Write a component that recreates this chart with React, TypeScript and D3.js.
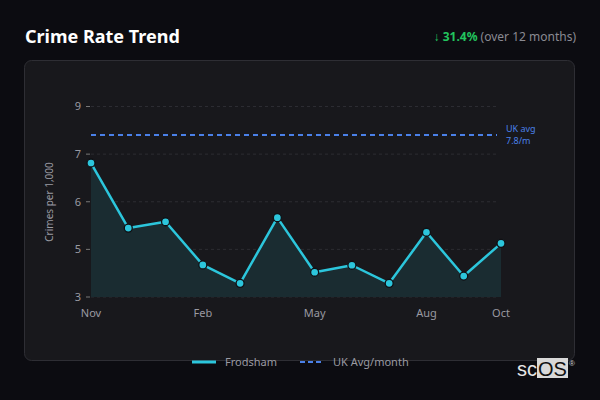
import React from "react";
import * as d3 from "d3";

const months = ["Nov", "Dec", "Jan", "Feb", "Mar", "Apr", "May", "Jun", "Jul", "Aug", "Sep", "Oct"];
const frodsham = [7.22, 5.17, 5.37, 4.01, 3.43, 5.5, 3.78, 4.0, 3.43, 5.04, 3.66, 4.69];
const ukAvgValue = 8.1;
const xTickMonths = ["Nov", "Feb", "May", "Aug", "Oct"];
const yTickValues = [3, 4.5, 6, 7.5, 9];
const yTickLabels = ["3", "5", "6", "7", "9"];

const W = 600;
const H = 400;
const FONT = "'Noto Sans', 'Open Sans', sans-serif";

export default function App() {
  const x = d3.scalePoint<string>().domain(months).range([91, 501]);
  const y = d3.scaleLinear().domain([3, 9]).range([297, 106.5]);

  const line = d3
    .line<number>()
    .x((_, i) => x(months[i]) as number)
    .y((d) => y(d));
  const area = d3
    .area<number>()
    .x((_, i) => x(months[i]) as number)
    .y0(y(3))
    .y1((d) => y(d));

  const gridX0 = 91;
  const gridX1 = 497;
  const cyan = "#2cc6dc";
  const blue = "#4a80e8";

  return (
    <svg
      width={W}
      height={H}
      style={{ position: "absolute", left: 0, top: 0, background: "#0c0c11" }}
      fontFamily={FONT}
    >
      <rect x={0} y={0} width={W} height={H} fill="#0c0c11" />
      <text x={25} y={43} fill="#ffffff" fontSize={18} fontWeight={700}>
        Crime Rate Trend
      </text>
      <text x={576} y={41} textAnchor="end" fontSize={12}>
        <tspan fill="#22c55e" fontWeight={700}>↓ 31.4%</tspan>
        <tspan fill="#8a8a92"> (over 12 months)</tspan>
      </text>

      <rect x={24.5} y={60.5} width={550} height={300} rx={7} fill="#18181c" stroke="#2e2e34" />

      {yTickValues.map((v, i) => (
        <g key={v}>
          <line
            x1={gridX0}
            x2={gridX1}
            y1={y(v)}
            y2={y(v)}
            stroke="#2c2c32"
            strokeDasharray="3,3"
          />
          <line x1={86} x2={90} y1={y(v)} y2={y(v)} stroke="#777" />
          <text x={81} y={y(v)} dy="0.35em" textAnchor="end" fill="#9a9aa2" fontSize={11}>
            {yTickLabels[i]}
          </text>
        </g>
      ))}

      <text
        transform={`translate(53,202) rotate(-90)`}
        textAnchor="middle"
        fill="#9a9aa2"
        fontSize={10}
      >
        Crimes per 1,000
      </text>

      {xTickMonths.map((m) => (
        <text key={m} x={x(m)} y={317} textAnchor="middle" fill="#9a9aa2" fontSize={11}>
          {m}
        </text>
      ))}

      <path d={area(frodsham) || ""} fill="#1a2c31" />

      <line
        x1={gridX0}
        x2={gridX1}
        y1={y(ukAvgValue)}
        y2={y(ukAvgValue)}
        stroke={blue}
        strokeWidth={2}
        strokeDasharray="5,4"
      />
      <text x={506} y={131.5} fill={blue} fontSize={9}>
        UK avg
      </text>
      <text x={506} y={144} fill={blue} fontSize={9}>
        7.8/m
      </text>

      <path d={line(frodsham) || ""} fill="none" stroke={cyan} strokeWidth={2.5} strokeLinejoin="round" />
      {frodsham.map((v, i) => (
        <circle key={i} cx={x(months[i])} cy={y(v)} r={4} fill={cyan} stroke="#101014" strokeWidth={1.3} />
      ))}

      <line x1={192} x2={216} y1={362} y2={362} stroke={cyan} strokeWidth={3} />
      <text x={225} y={362} dy="0.35em" fill="#9a9aa2" fontSize={11}>
        Frodsham
      </text>
      <line x1={300} x2={324} y1={362} y2={362} stroke={blue} strokeWidth={2} strokeDasharray="5,3" />
      <text x={333} y={362} dy="0.35em" fill="#9a9aa2" fontSize={11}>
        UK Avg/month
      </text>

      <text x={517} y={376} fill="#e6e6e6" fontSize={20} fontFamily="'Liberation Sans', Arial, sans-serif">
        sc
      </text>
      <rect x={537} y={358} width={31} height={20} fill="#d9d9d9" />
      <text x={538} y={376} fill="#111" fontSize={20} fontFamily="'Liberation Sans', Arial, sans-serif">
        OS
      </text>
      <text x={569} y={366} fill="#cfcfcf" fontSize={8} fontFamily="'Liberation Sans', Arial, sans-serif">
        ®
      </text>
    </svg>
  );
}
